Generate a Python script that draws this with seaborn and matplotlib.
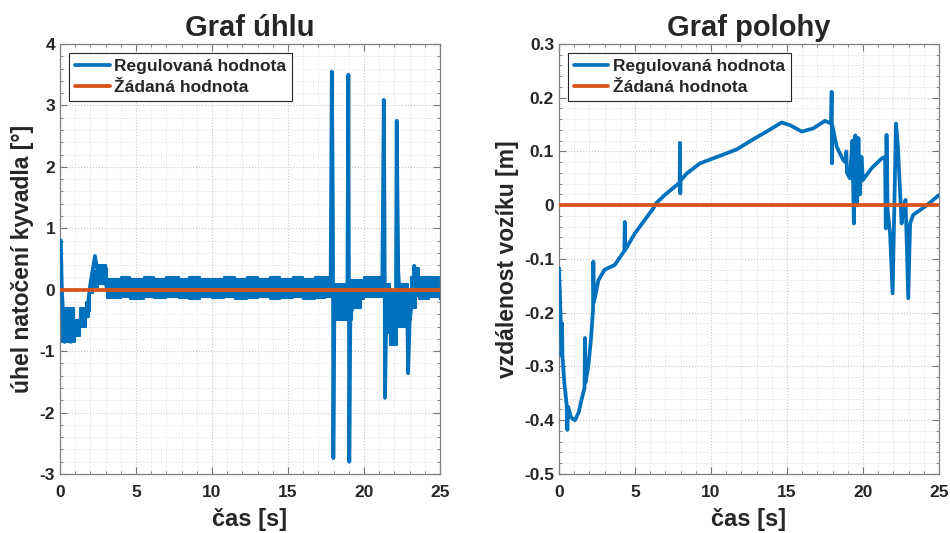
import numpy as np
import matplotlib
matplotlib.use("Agg")
import matplotlib.pyplot as plt
from matplotlib.ticker import MultipleLocator, FuncFormatter
import seaborn as sns
import pandas as pd

# --- data ---
# angle: main trace (spikes and slow parts)
ang_t = [0.0, 0.05, 0.12, 0.3, 0.5, 0.7, 0.9, 1.2, 1.5, 1.8, 2.0, 2.3, 2.5, 2.8, 3.1,
         17.8, 17.88, 17.95, 17.98, 18.05, 18.9, 18.97, 19.0, 19.03, 19.1, 19.4,
         21.2, 21.3, 21.35, 21.38, 21.45, 21.7, 22.1, 22.15, 22.25, 22.4, 22.85,
         22.9, 23.0, 23.25, 23.3, 23.45, 25.0]
ang_v = [0.75, 0.8, 0.0, -0.85, -0.6, -0.85, -0.55, -0.6, -0.35, -0.3, 0.1, 0.55, 0.25, 0.35, 0.0,
         0.05, 3.55, 1.2, -2.74, -0.3, -0.2, 3.5, 0.5, -2.8, -0.4, -0.2,
         0.1, 3.09, 1.0, -1.76, -0.6, -0.5, -0.2, 2.75, 0.3, -0.4, -0.5,
         -1.36, -0.5, 0.0, 0.39, 0.05, 0.0]

# angle: quantisation noise band (upper / lower edge, stepwise)
band_t = [0.15, 0.9, 1.0, 1.3, 1.7, 1.9, 2.0, 2.2, 2.5, 3.0,
          3.1, 4.0, 4.6, 5.5, 6.2, 7.0, 7.8, 8.5, 9.2, 10.0,
          10.8, 11.5, 12.3, 13.0, 13.8, 14.5, 15.3, 16.0, 16.8, 17.4,
          17.95, 18.9, 19.2, 19.8, 20.0, 20.7, 21.4, 21.7, 22.2, 22.9,
          23.1, 23.4, 23.6, 24.3, 25.0]
band_hi = [-0.3, -0.5, -0.5, -0.3, -0.2, 0.0, 0.15, 0.3, 0.4, 0.35,
           0.18, 0.2, 0.18, 0.2, 0.18, 0.2, 0.18, 0.2, 0.18, 0.17,
           0.2, 0.18, 0.2, 0.18, 0.2, 0.17, 0.2, 0.18, 0.2, 0.2,
           0.1, 0.15, 0.15, 0.15, 0.2, 0.2, 0.1, 0.0, 0.1, 0.0,
           0.2, 0.35, 0.2, 0.2, 0.2]
band_lo = [-0.85, -0.85, -0.75, -0.6, -0.45, -0.35, -0.05, 0.05, 0.1, 0.0,
           -0.13, -0.12, -0.15, -0.12, -0.13, -0.12, -0.13, -0.15, -0.12, -0.13,
           -0.12, -0.15, -0.13, -0.12, -0.15, -0.13, -0.12, -0.15, -0.13, -0.12,
           -0.5, -0.5, -0.3, -0.15, -0.12, -0.12, -0.7, -0.9, -0.6, -0.5,
           -0.3, -0.1, -0.15, -0.12, -0.15]

# cart position
pos_t = [0.0, 0.1, 0.15, 0.18, 0.2, 0.23, 0.35, 0.5, 0.55, 0.6, 0.8, 1.05, 1.3, 1.5,
         1.68, 1.71, 1.74, 1.93, 2.1, 2.24, 2.26, 2.3, 2.6, 3.0, 3.67, 4.3, 4.33, 4.36,
         5.0, 6.2, 6.4, 7.0, 7.94, 7.96, 7.98, 8.0, 8.4, 9.28, 10.6, 11.7, 12.8, 13.66,
         14.65, 15.2, 15.97, 16.73, 17.5, 17.9, 17.94, 17.96, 17.98, 18.27, 18.7, 18.85,
         18.9, 18.95, 19.14, 19.3, 19.4, 19.5, 19.6, 19.7, 19.8, 19.9, 20.0, 20.57, 21.23,
         21.45, 21.5, 21.55, 21.62, 21.78, 21.95, 22.05, 22.17, 22.3, 22.54, 22.65, 22.8,
         22.98, 23.1, 23.3, 24.2, 25.0]
pos_v = [-0.117, -0.2, -0.25, -0.28, -0.22, -0.28, -0.33, -0.37, -0.418, -0.375, -0.395, -0.40, -0.385, -0.36,
         -0.34, -0.247, -0.33, -0.30, -0.25, -0.195, -0.105, -0.18, -0.139, -0.12, -0.111, -0.085, -0.031, -0.083,
         -0.052, -0.006, 0.004, 0.02, 0.042, 0.116, 0.022, 0.046, 0.059, 0.078, 0.092, 0.104, 0.123, 0.137,
         0.154, 0.149, 0.137, 0.143, 0.157, 0.152, 0.211, 0.078, 0.149, 0.109, 0.084, 0.08,
         0.1, 0.06, 0.05, 0.12, -0.034, 0.13, 0.0, 0.125, 0.02, 0.09, 0.047, 0.069, 0.087,
         0.09, -0.043, 0.131, -0.009, -0.052, -0.164, -0.02, 0.152, 0.109, -0.034, -0.005, 0.01,
         -0.173, -0.034, -0.018, 0.0, 0.019]

ref_t = [0.0, 25.0]
ref_v = [0.0, 0.0]

blue = '#0072BD'
orange = '#D95319'

sns.set_style("ticks")
plt.rcParams['font.family'] = ['Liberation Sans', 'DejaVu Sans']
plt.rcParams['font.weight'] = 'bold'
plt.rcParams['axes.unicode_minus'] = False

fig = plt.figure(figsize=(9.5, 5.33), dpi=100)
ax1 = fig.add_axes([0.0632, 0.1107, 0.4, 0.8068])
ax2 = fig.add_axes([0.5884, 0.1107, 0.4, 0.8068])

# left: angle
ax1.fill_between(band_t, band_lo, band_hi, step='post', facecolor=blue,
                 edgecolor=blue, lw=1.5, zorder=2)
sns.lineplot(x=ang_t, y=ang_v, ax=ax1, color=blue, lw=2.7, sort=False, estimator=None,
             label='Regulovaná hodnota', zorder=3)
sns.lineplot(x=ref_t, y=ref_v, ax=ax1, color=orange, lw=2.7, sort=False, estimator=None,
             label='Žádaná hodnota', zorder=4)

# right: position
sns.lineplot(x=pos_t, y=pos_v, ax=ax2, color=blue, lw=2.7, sort=False, estimator=None,
             label='Regulovaná hodnota', zorder=3)
sns.lineplot(x=ref_t, y=ref_v, ax=ax2, color=orange, lw=2.7, sort=False, estimator=None,
             label='Žádaná hodnota', zorder=4)

setup = [
    (ax1, 'Graf úhlu', 'úhel natočení kyvadla [°]', (-3, 4), 1, 0.2),
    (ax2, 'Graf polohy', 'vzdálenost vozíku [m]', (-0.5, 0.3), 0.1, 0.02),
]
for ax, title, ylab, ylim, ymaj, ymin in setup:
    ax.set_xlim(0, 25)
    ax.set_ylim(*ylim)
    ax.xaxis.set_major_locator(MultipleLocator(5))
    ax.xaxis.set_minor_locator(MultipleLocator(1))
    ax.yaxis.set_major_locator(MultipleLocator(ymaj))
    ax.yaxis.set_minor_locator(MultipleLocator(ymin))
    ax.yaxis.set_major_formatter(FuncFormatter(lambda v, p: '{:g}'.format(round(v, 6))))
    ax.set_title(title, fontsize=21, fontweight='bold', pad=6)
    ax.set_xlabel('čas [s]', fontsize=17, fontweight='bold', labelpad=6)
    ax.set_ylabel(ylab, fontsize=16.5, fontweight='bold', labelpad=4)
    ax.grid(which='major', linestyle=':', color='#c8c8c8', lw=0.8)
    ax.grid(which='minor', linestyle=':', color='#e2e2e2', lw=0.7)
    ax.set_axisbelow(True)
    ax.tick_params(which='both', direction='in', top=True, right=True, colors='#777777',
                   labelcolor='#262626', labelsize=12.5)
    ax.tick_params(which='major', length=5, width=0.8)
    ax.tick_params(axis='x', which='major', pad=8)
    ax.tick_params(which='minor', length=2.5, width=0.6)
    for lab in ax.get_xticklabels() + ax.get_yticklabels():
        lab.set_fontweight('bold')
    for s in ax.spines.values():
        s.set_visible(True)
        s.set_color('#808080')
        s.set_linewidth(0.9)
    leg = ax.legend(loc='upper left', fontsize=12.5, frameon=True, fancybox=False,
                    framealpha=1, edgecolor='#262626', handlelength=2.0,
                    handletextpad=0.25, labelspacing=0.35, borderpad=0.35,
                    borderaxespad=0.5)
    leg.get_frame().set_linewidth(0.8)
    for txt in leg.get_texts():
        txt.set_fontweight('bold')

fig.savefig('out.png', dpi=100)
